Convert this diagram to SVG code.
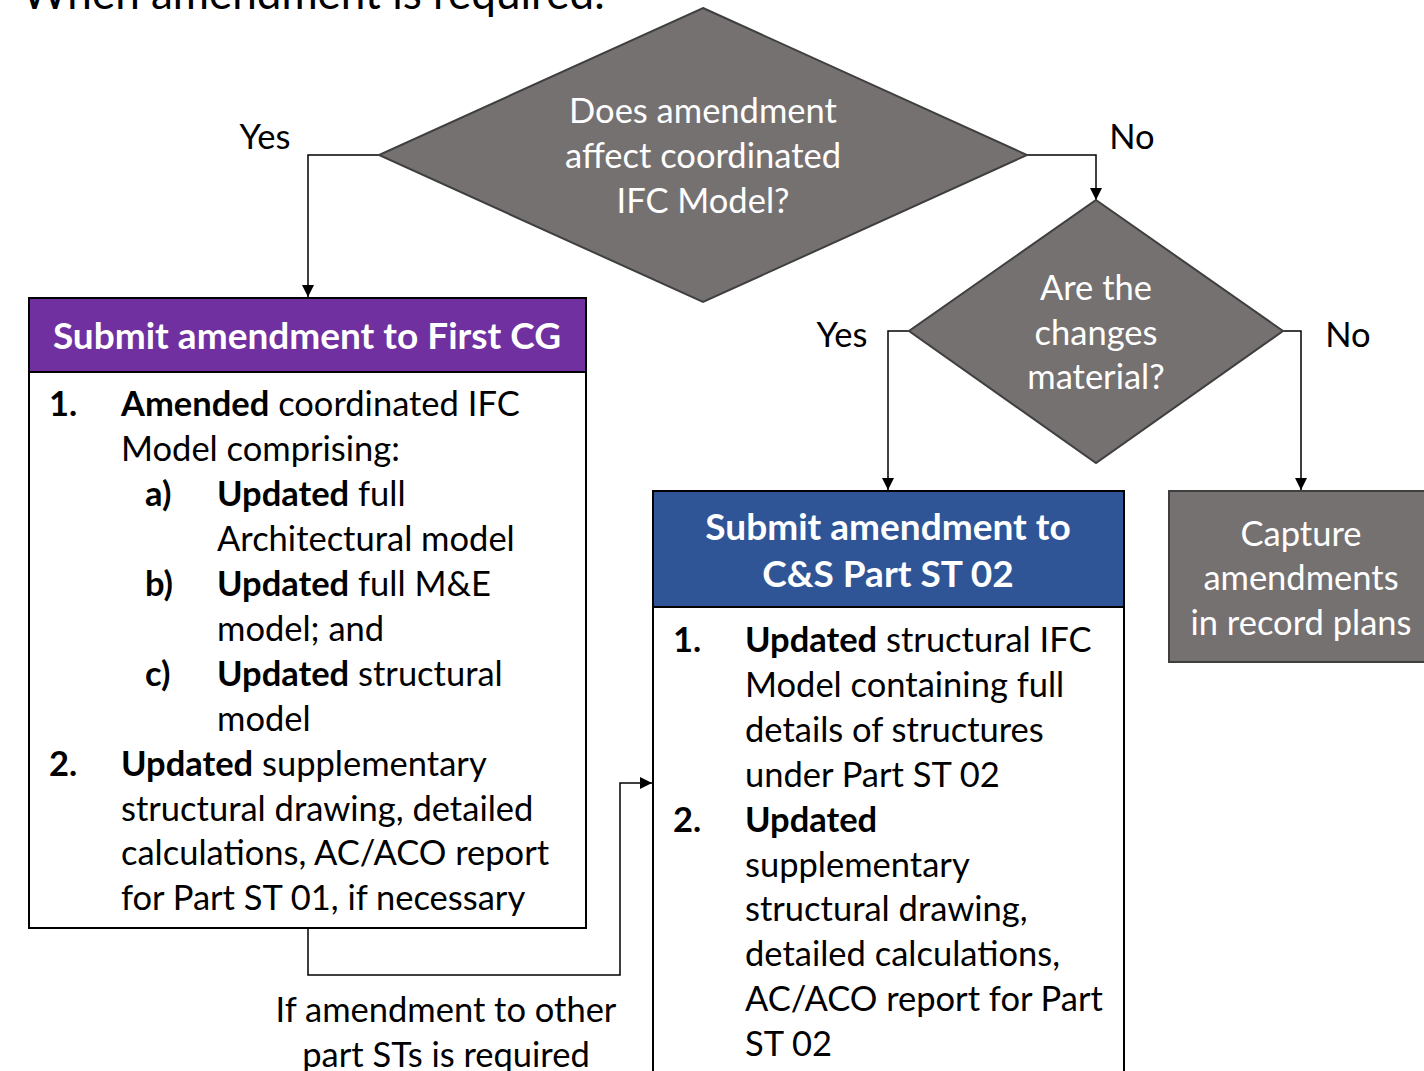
<svg xmlns="http://www.w3.org/2000/svg" width="1424" height="1071" viewBox="0 0 1424 1071">
<defs>
<style>
text{font-family:Lato,"Open Sans","Liberation Sans",sans-serif;font-size:34.5px}
.w{fill:#fff}
.k{fill:#000}
.c{text-anchor:middle}
.b{font-weight:bold}
.h{font-weight:bold;font-size:37px}
.dia{fill:#767171;stroke:#3f3f3f;stroke-width:2}
.box{fill:#fff;stroke:#000;stroke-width:2}
.con{fill:none;stroke:#000;stroke-width:1.5}
</style>
<marker id="ah" viewBox="0 0 12 12" refX="12" refY="6" markerWidth="12" markerHeight="12" markerUnits="userSpaceOnUse" orient="auto">
<path d="M0,0 L12,6 L0,12 z" fill="#000"/>
</marker>
</defs>
<rect width="1424" height="1071" fill="#fff"/>
<text class="k" x="22" y="9" style="font-size:44px">When amendment is required:</text>

<g id="connectors">
<polyline class="con" points="379,155 308,155 308,297" marker-end="url(#ah)"/>
<polyline class="con" points="1027,155 1096,155 1096,200" marker-end="url(#ah)"/>
<polyline class="con" points="909,331 888,331 888,490" marker-end="url(#ah)"/>
<polyline class="con" points="1283,331 1301,331 1301,490" marker-end="url(#ah)"/>
<polyline class="con" points="308,928 308,975 620,975 620,783 652,783" marker-end="url(#ah)"/>
<text class="k c" x="265" y="149">Yes</text>
<text class="k c" x="1132" y="149">No</text>
<text class="k c" x="842" y="347">Yes</text>
<text class="k c" x="1348" y="347">No</text>
<text class="k c" x="446" y="1022">If amendment to other</text>
<text class="k c" x="446" y="1067">part STs is required</text>
</g>

<g id="decision1">
<polygon class="dia" points="703,8 1027,155 703,302 379,155"/>
<text class="w c" x="703" y="123">Does amendment</text>
<text class="w c" x="703" y="168">affect coordinated</text>
<text class="w c" x="703" y="213">IFC Model?</text>
</g>

<g id="decision2">
<polygon class="dia" points="1096,200 1283,331 1096,463 909,331"/>
<text class="w c" x="1096" y="300">Are the</text>
<text class="w c" x="1096" y="345">changes</text>
<text class="w c" x="1096" y="389">material?</text>
</g>

<g id="first-cg">
<rect class="box" x="29" y="298" width="557" height="630"/>
<rect x="29" y="298" width="557" height="74" fill="#7030a0" stroke="#000" stroke-width="2"/>
<text class="w c h" x="307" y="349">Submit amendment to First CG</text>
<text class="k b" x="49" y="416">1.</text>
<text class="k" x="121" y="416"><tspan class="b">Amended</tspan> coordinated IFC</text>
<text class="k" x="121" y="461">Model comprising:</text>
<text class="k b" x="145" y="506">a)</text>
<text class="k" x="217" y="506"><tspan class="b">Updated</tspan> full</text>
<text class="k" x="217" y="551">Architectural model</text>
<text class="k b" x="145" y="596">b)</text>
<text class="k" x="217" y="596"><tspan class="b">Updated</tspan> full M&amp;E</text>
<text class="k" x="217" y="641">model; and</text>
<text class="k b" x="145" y="686">c)</text>
<text class="k" x="217" y="686"><tspan class="b">Updated</tspan> structural</text>
<text class="k" x="217" y="731">model</text>
<text class="k b" x="49" y="776">2.</text>
<text class="k" x="121" y="776"><tspan class="b">Updated</tspan> supplementary</text>
<text class="k" x="121" y="821">structural drawing, detailed</text>
<text class="k" x="121" y="865">calculations, AC/ACO report</text>
<text class="k" x="121" y="910">for Part ST 01, if necessary</text>
</g>

<g id="cs-st02">
<rect class="box" x="653" y="491" width="471" height="600"/>
<rect x="653" y="491" width="471" height="116" fill="#2f5597" stroke="#000" stroke-width="2"/>
<text class="w c h" x="888" y="540">Submit amendment to</text>
<text class="w c h" x="888" y="587">C&amp;S Part ST 02</text>
<text class="k b" x="673" y="652">1.</text>
<text class="k" x="745" y="652"><tspan class="b">Updated</tspan> structural IFC</text>
<text class="k" x="745" y="697">Model containing full</text>
<text class="k" x="745" y="742">details of structures</text>
<text class="k" x="745" y="787">under Part ST 02</text>
<text class="k b" x="673" y="832">2.</text>
<text class="k b" x="745" y="832">Updated</text>
<text class="k" x="745" y="877">supplementary</text>
<text class="k" x="745" y="921">structural drawing,</text>
<text class="k" x="745" y="966">detailed calculations,</text>
<text class="k" x="745" y="1011">AC/ACO report for Part</text>
<text class="k" x="745" y="1056">ST 02</text>
</g>

<g id="record-plans">
<rect class="dia" x="1169" y="491" width="270" height="171"/>
<text class="w c" x="1301" y="546">Capture</text>
<text class="w c" x="1301" y="590">amendments</text>
<text class="w c" x="1301" y="635">in record plans</text>
</g>
</svg>
